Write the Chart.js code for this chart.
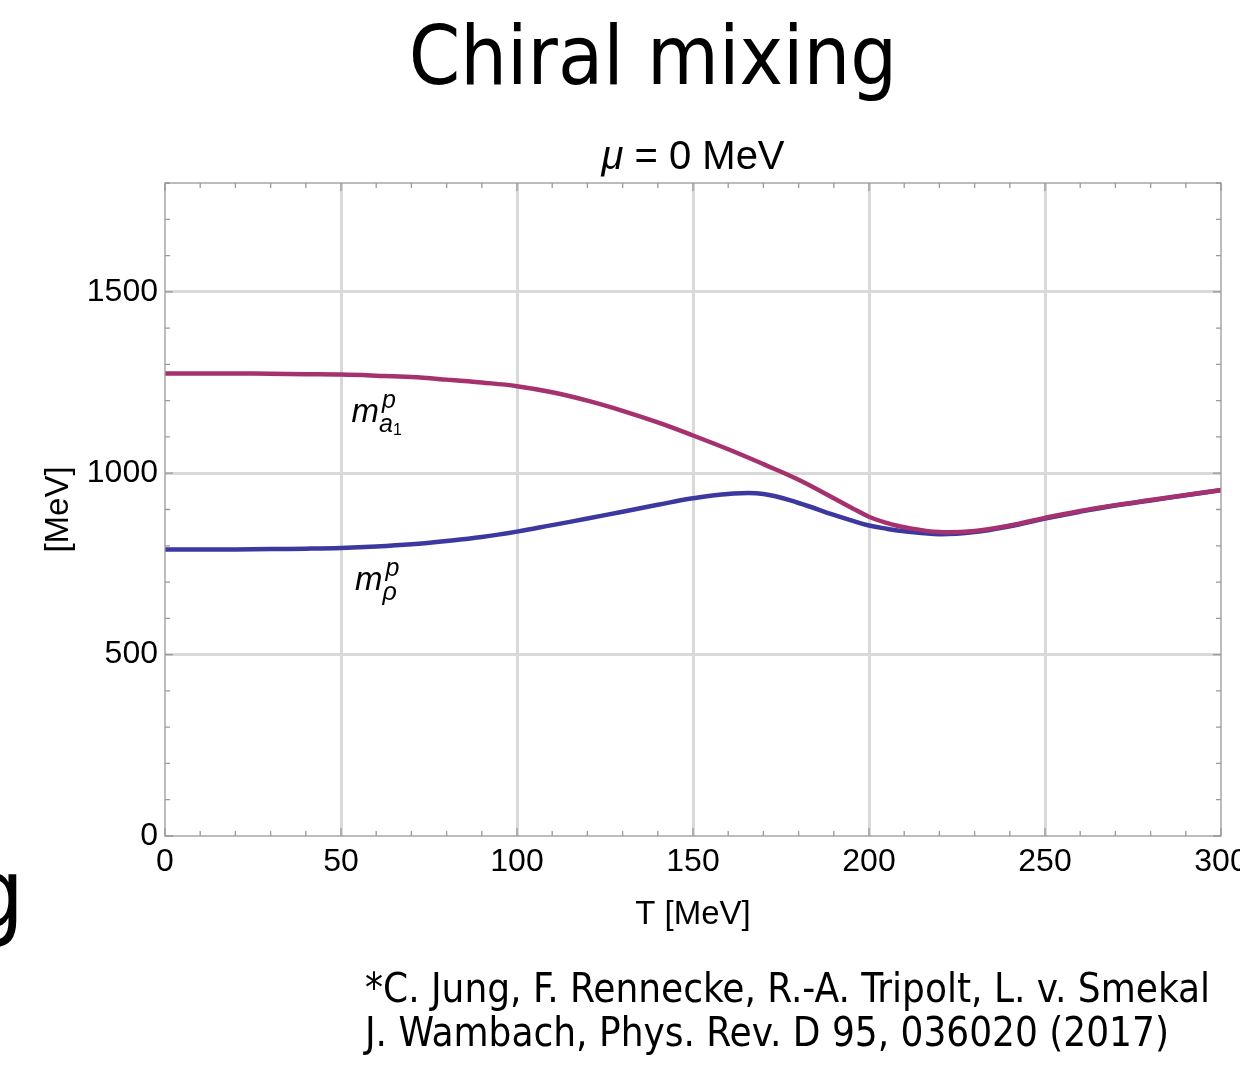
<!DOCTYPE html>
<html>
<head>
<meta charset="utf-8">
<script src="https://cdn.jsdelivr.net/npm/chart.js@4"></script>
<style>
  html, body { margin: 0; padding: 0; background: #fff; overflow: hidden; width: 1240px; height: 1070px; }
  canvas { display: block; }
</style>
</head>
<body>
<canvas id="c" width="1280" height="1070"></canvas>
<script>
// temperature grid [MeV]
const temps = [0, 10, 20, 30, 40, 50, 60, 70, 80, 90, 100, 110, 120, 130, 140, 150,
  160, 170, 180, 190, 195, 200, 205, 210, 220, 230, 240, 250, 260, 270, 280, 290, 300];
// pole masses [MeV]
const massA1 = [1275, 1275, 1275, 1274, 1273, 1272, 1269, 1265, 1258, 1250, 1240, 1223, 1200, 1172, 1140, 1104,
  1066, 1025, 982, 931, 905, 880, 863, 851, 838, 841, 856, 877, 896, 912, 926, 940, 954];
const massRho = [790, 790, 790, 791, 792, 794, 798, 804, 813, 824, 839, 857, 875, 894, 913, 931,
  943, 943, 918, 885, 870, 856, 847, 840, 832, 838, 854, 875, 894, 911, 925, 939, 953];
const xMajor = 50;
const yMajor = 500;

const toPoints = (ys) => temps.map((t, i) => ({ x: t, y: ys[i] }));

// frame, inward ticks and all the extra slide text
const decor = {
  id: 'decor',
  afterDraw(chart) {
    const ctx = chart.ctx;
    const { left, right, top, bottom } = chart.chartArea;
    const xs = chart.scales.x, ys = chart.scales.y;
    ctx.save();
    ctx.strokeStyle = '#999';
    ctx.lineWidth = 1.3;
    ctx.strokeRect(left, top, right - left, bottom - top);
    ctx.beginPath();
    xs.ticks.forEach(tk => {
      const px = xs.getPixelForValue(tk.value);
      const len = tk.value % xMajor === 0 ? 8 : 5;
      ctx.moveTo(px, bottom); ctx.lineTo(px, bottom - len);
      ctx.moveTo(px, top); ctx.lineTo(px, top + len);
    });
    ys.ticks.forEach(tk => {
      const py = ys.getPixelForValue(tk.value);
      const len = tk.value % yMajor === 0 ? 8 : 5;
      ctx.moveTo(left, py); ctx.lineTo(left + len, py);
      ctx.moveTo(right, py); ctx.lineTo(right - len, py);
    });
    ctx.stroke();

    ctx.fillStyle = '#000';
    // slide title
    ctx.font = '82px "DejaVu Sans Condensed", "DejaVu Sans"';
    ctx.textAlign = 'center';
    ctx.textBaseline = 'alphabetic';
    ctx.fillText('Chiral mixing', 653, 84);
    // fragment of the slide text underneath
    ctx.font = '96px "DejaVu Sans Condensed", "DejaVu Sans"';
    ctx.textAlign = 'right';
    ctx.fillText('g', 24, 927);

    // plot label  mu = 0 MeV
    const cx = (left + right) / 2;
    ctx.textAlign = 'left';
    ctx.font = 'italic 40px "Liberation Sans"';
    const muW = ctx.measureText('μ').width;
    ctx.font = '40px "Liberation Sans"';
    const restW = ctx.measureText(' = 0 MeV').width;
    const sx = cx - (muW + restW) / 2;
    ctx.font = 'italic 40px "Liberation Sans"';
    ctx.fillText('μ', sx, 169);
    ctx.font = '40px "Liberation Sans"';
    ctx.fillText(' = 0 MeV', sx + muW, 169);

    // axis titles
    ctx.font = '33px "Liberation Sans"';
    ctx.textAlign = 'center';
    ctx.fillText('T [MeV]', cx, 924);
    ctx.save();
    ctx.translate(68, (top + bottom) / 2);
    ctx.rotate(-Math.PI / 2);
    ctx.font = '33px "Liberation Sans"';
    ctx.fillText('[MeV]', 0, 0);
    ctx.restore();

    // curve labels
    const lab = (t, m, sub) => {
      const x = xs.getPixelForValue(t), y = ys.getPixelForValue(m);
      ctx.textAlign = 'left';
      ctx.font = 'italic 33px "Liberation Sans"';
      ctx.fillText('m', x, y);
      const w = ctx.measureText('m').width;
      ctx.font = 'italic 25px "Liberation Sans"';
      ctx.fillText('p', x + w + 3, y - 14);
      ctx.fillText(sub[0], x + w, y + 10);
      if (sub[1]) {
        const sw = ctx.measureText(sub[0]).width;
        ctx.font = '16px "Liberation Sans"';
        ctx.fillText(sub[1], x + w + sw, y + 13);
      }
    };
    lab(53, 1142, ['a', '1']);
    lab(54, 678, ['ρ']);

    // reference
    ctx.font = '40px "DejaVu Sans Condensed", "DejaVu Sans"';
    ctx.textAlign = 'left';
    ctx.fillText('*C. Jung, F. Rennecke, R.-A. Tripolt, L. v. Smekal', 365, 1002);
    ctx.fillText('J. Wambach, Phys. Rev. D 95, 036020 (2017)', 365, 1046);
    ctx.restore();
  }
};

new Chart(document.getElementById('c').getContext('2d'), {
  type: 'line',
  data: {
    datasets: [
      {
        label: 'a1',
        data: toPoints(massA1),
        borderColor: '#a5326f',
        borderWidth: 4.5,
        pointRadius: 0,
        tension: 0.4,
        order: 1
      },
      {
        label: 'rho',
        data: toPoints(massRho),
        borderColor: '#3c389f',
        borderWidth: 4.5,
        pointRadius: 0,
        tension: 0.4,
        order: 2
      }
    ]
  },
  options: {
    responsive: false,
    animation: false,
    layout: { padding: { top: 183, right: 59, left: 0, bottom: 0 } },
    plugins: { legend: { display: false }, tooltip: { enabled: false } },
    scales: {
      x: {
        type: 'linear',
        min: 0, max: 300,
        afterFit: (s) => { s.height = 234; },
        border: { display: false },
        grid: {
          drawTicks: false,
          lineWidth: 3,
          color: (c) => (c.tick && c.tick.value % xMajor === 0 && c.tick.value > 0 && c.tick.value < 300) ? '#d9d9d9' : 'transparent'
        },
        ticks: {
          stepSize: 10,
          autoSkip: false,
          maxRotation: 0,
          padding: 7,
          color: '#000',
          font: { family: 'Liberation Sans', size: 32 },
          callback: (v) => (v % xMajor === 0 ? v : '')
        }
      },
      y: {
        min: 0, max: 1800,
        afterFit: (s) => { s.width = 165; },
        border: { display: false },
        grid: {
          drawTicks: false,
          lineWidth: 3,
          color: (c) => (c.tick && c.tick.value % yMajor === 0 && c.tick.value > 0) ? '#d9d9d9' : 'transparent'
        },
        ticks: {
          stepSize: 100,
          autoSkip: false,
          padding: 7,
          color: '#000',
          font: { family: 'Liberation Sans', size: 32 },
          callback: (v) => (v % yMajor === 0 ? v : '')
        }
      }
    }
  },
  plugins: [decor]
});
</script>
</body>
</html>
